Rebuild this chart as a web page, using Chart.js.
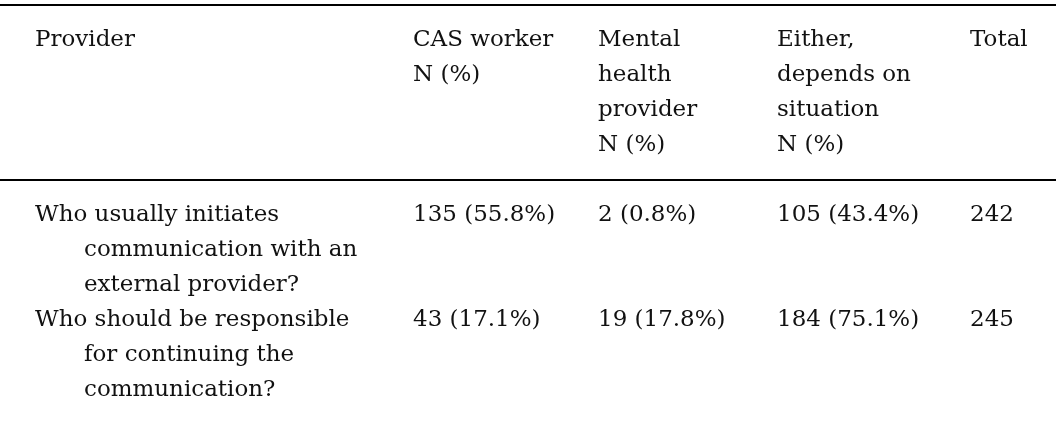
<!DOCTYPE html>
<html>
<head>
<meta charset="utf-8">
<script src="https://cdn.jsdelivr.net/npm/chart.js@4/dist/chart.umd.min.js"></script>
<style>
  html, body { margin: 0; padding: 0; background: #fff; }
  #wrap { width: 1064px; height: 428px; }
</style>
</head>
<body>
<div id="wrap"><canvas id="c"></canvas></div>
<script>
// table content
const headers = [
  ["Provider"],
  ["CAS worker", "N (%)"],
  ["Mental", "health", "provider", "N (%)"],
  ["Either,", "depends on", "situation", "N (%)"],
  ["Total"]
];
const questions = [
  ["Who usually initiates", "communication with an", "external provider?"],
  ["Who should be responsible", "for continuing the", "communication?"]
];
const casWorker = ["135 (55.8%)", "43 (17.1%)"];
const mentalHealth = ["2 (0.8%)", "19 (17.8%)"];
const eitherSituation = ["105 (43.4%)", "184 (75.1%)"];
const totals = ["242", "245"];

// layout (in scale units == pixels)
const colX = [35, 413, 598, 777, 970];
const indentX = 84;
const lineH = 35.2;
const headerTop = 40;
const bodyTops = [215, 320];
const rules = [5, 180];
const stretch = 1.045;

const tablePlugin = {
  id: "tableText",
  afterDraw(chart) {
    const ctx = chart.ctx;
    const xs = chart.scales.x, ys = chart.scales.y;
    const px = v => xs.getPixelForValue(v);
    const py = v => ys.getPixelForValue(v);
    const text = (t, x, y) => {
      ctx.save();
      ctx.translate(x, y);
      ctx.scale(stretch, 1);
      ctx.fillText(t, 0, 0);
      ctx.restore();
    };
    ctx.save();
    ctx.strokeStyle = "#000";
    ctx.lineWidth = 2;
    rules.forEach(r => {
      ctx.beginPath();
      ctx.moveTo(px(0), py(r));
      ctx.lineTo(px(1056), py(r));
      ctx.stroke();
    });
    ctx.fillStyle = "#111";
    ctx.font = "22px 'DejaVu Serif'";
    ctx.textBaseline = "middle";
    headers.forEach((lines, c) => {
      lines.forEach((t, i) => text(t, px(colX[c]), py(headerTop + i * lineH)));
    });
    questions.forEach((lines, r) => {
      const top = bodyTops[r];
      lines.forEach((t, i) => text(t, px(i === 0 ? colX[0] : indentX), py(top + i * lineH)));
      [casWorker, mentalHealth, eitherSituation, totals].forEach((col, c) => {
        text(col[r], px(colX[c + 1]), py(top));
      });
    });
    ctx.restore();
  }
};

new Chart(document.getElementById("c"), {
  type: "scatter",
  data: { datasets: [{ data: [] }] },
  options: {
    responsive: true,
    maintainAspectRatio: false,
    animation: false,
    layout: { padding: 0 },
    plugins: { legend: { display: false }, tooltip: { enabled: false } },
    scales: {
      x: { type: "linear", min: 0, max: 1064, display: false },
      y: { type: "linear", min: 0, max: 428, reverse: true, display: false }
    }
  },
  plugins: [tablePlugin]
});
</script>
</body>
</html>
